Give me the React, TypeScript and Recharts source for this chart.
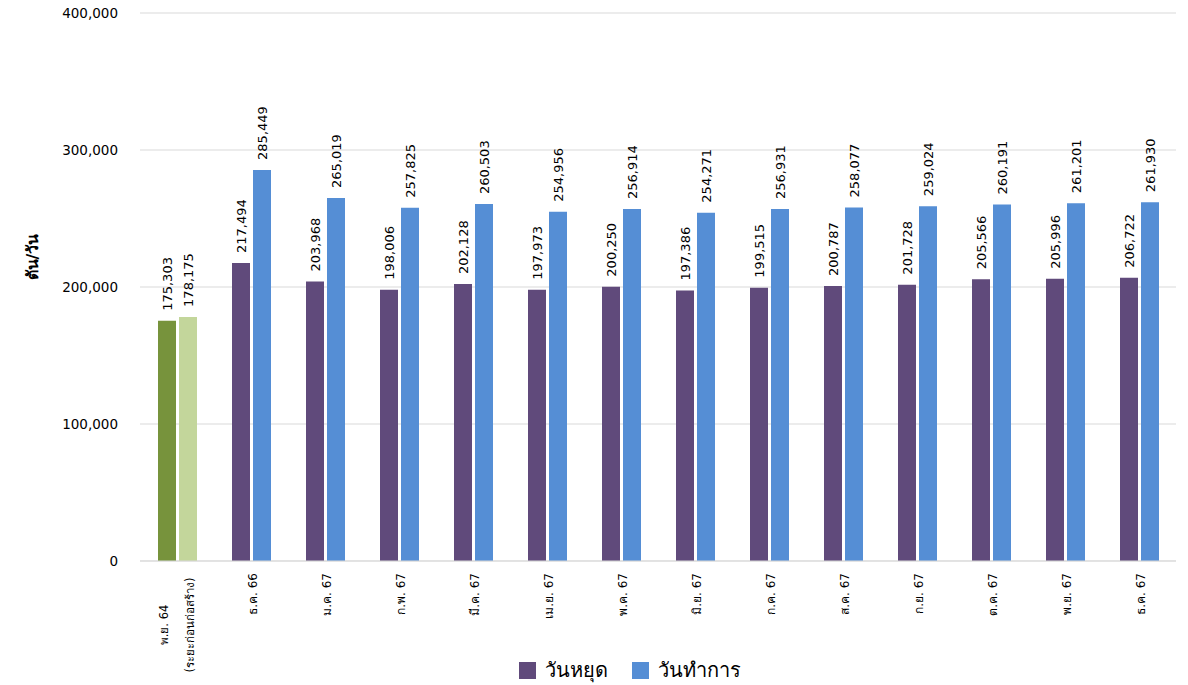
import React from "react";
import {
  BarChart,
  Bar,
  XAxis,
  YAxis,
  CartesianGrid,
  Legend,
  LabelList,
  Cell,
} from "recharts";

const MONTHS = [
  "พ.ย. 64\n(ระยะก่อนก่อสร้าง)",
  "ธ.ค. 66",
  "ม.ค. 67",
  "ก.พ. 67",
  "มี.ค. 67",
  "เม.ย. 67",
  "พ.ค. 67",
  "มิ.ย. 67",
  "ก.ค. 67",
  "ส.ค. 67",
  "ก.ย. 67",
  "ต.ค. 67",
  "พ.ย. 67",
  "ธ.ค. 67",
];

const HOLIDAY = [
  175303, 217494, 203968, 198006, 202128, 197973, 200250, 197386, 199515,
  200787, 201728, 205566, 205996, 206722,
];

const WORKDAY = [
  178175, 285449, 265019, 257825, 260503, 254956, 256914, 254271, 256931,
  258077, 259024, 260191, 261201, 261930,
];

const Y_TICKS = [0, 100000, 200000, 300000, 400000];

const SERIES = [
  { key: "holiday", label: "วันหยุด", color: "#604a7b", first: "#77933c" },
  { key: "workday", label: "วันทำการ", color: "#558ed5", first: "#c3d69b" },
];

const FONT = "'DejaVu Sans', 'Noto Sans', sans-serif";
const GRID = "#d9d9d9";

const data = MONTHS.map((month, i) => ({
  month,
  holiday: HOLIDAY[i],
  workday: WORKDAY[i],
}));

const fmt = (v: number) => v.toLocaleString("en-US");

function MonthTick(props: any) {
  const { x, y, payload } = props;
  const lines = String(payload.value).split("\n");
  if (lines.length > 1) {
    // multi-line label: lines centred on each other
    return (
      <g transform={`translate(${x},${y + 56}) rotate(-90)`}>
        {lines.map((ln, i) => (
          <text
            key={i}
            x={0}
            y={(i - (lines.length - 1) / 2) * 26}
            dy="0.35em"
            textAnchor="middle"
            fontSize={11.5}
            fontFamily={FONT}
            fill="#000"
          >
            {ln}
          </text>
        ))}
      </g>
    );
  }
  return (
    <g transform={`translate(${x + 2},${y + 4}) rotate(-90)`}>
      <text
        x={0}
        y={0}
        dy="0.35em"
        textAnchor="end"
        fontSize={12}
        fontFamily={FONT}
        fill="#000"
      >
        {lines[0]}
      </text>
    </g>
  );
}

function ValueLabel(props: any) {
  const { x, y, width, value } = props;
  const cx = x + width / 2;
  const cy = y - 10;
  return (
    <text
      x={cx}
      y={cy}
      transform={`rotate(-90, ${cx}, ${cy})`}
      dy="0.35em"
      textAnchor="start"
      fontSize={13}
      fontFamily={FONT}
      fill="#000"
    >
      {fmt(Number(value))}
    </text>
  );
}

function LegendBox() {
  return (
    <div
      style={{
        display: "flex",
        justifyContent: "center",
        alignItems: "center",
        gap: 24,
        fontFamily: FONT,
        fontSize: 20,
        color: "#000",
        paddingLeft: 84,
        paddingTop: 6,
      }}
    >
      {SERIES.map((s) => (
        <div key={s.key} style={{ display: "flex", alignItems: "center" }}>
          <span
            style={{
              display: "inline-block",
              width: 17,
              height: 17,
              background: s.color,
              marginRight: 9,
            }}
          />
          <span style={{ lineHeight: "26px" }}>{s.label}</span>
        </div>
      ))}
    </div>
  );
}

export default function App() {
  return (
    <div style={{ position: "absolute", left: 0, top: 0, width: 1188, height: 685, background: "#fff" }}>
      <BarChart
        width={1188}
        height={685}
        data={data}
        margin={{ top: 13, right: 12, left: 0, bottom: 2 }}
        barSize={18}
        barGap={3}
      >
        <CartesianGrid vertical={false} stroke={GRID} />
        <XAxis
          dataKey="month"
          interval={0}
          tickLine={false}
          axisLine={{ stroke: GRID }}
          height={90}
          tick={<MonthTick />}
        />
        <YAxis
          width={140}
          domain={[0, 400000]}
          ticks={Y_TICKS}
          tickFormatter={fmt}
          axisLine={false}
          tickLine={false}
          tickSize={0}
          tickMargin={22}
          tick={{ fontSize: 13.5, fontFamily: FONT, fill: "#000" }}
        />
        <Legend verticalAlign="bottom" content={<LegendBox />} />
        {SERIES.map((s) => (
          <Bar
            key={s.key}
            dataKey={s.key}
            name={s.label}
            fill={s.color}
            isAnimationActive={false}
          >
            {data.map((_, i) => (
              <Cell key={i} fill={i === 0 ? s.first : s.color} />
            ))}
            <LabelList dataKey={s.key} content={<ValueLabel />} />
          </Bar>
        ))}
        <text
          x={32}
          y={257}
          transform="rotate(-90, 32, 257)"
          textAnchor="middle"
          dy="0.35em"
          fontSize={16}
          fontWeight="bold"
          fontFamily={FONT}
          fill="#000"
        >
          ตัน/วัน
        </text>
      </BarChart>
    </div>
  );
}
